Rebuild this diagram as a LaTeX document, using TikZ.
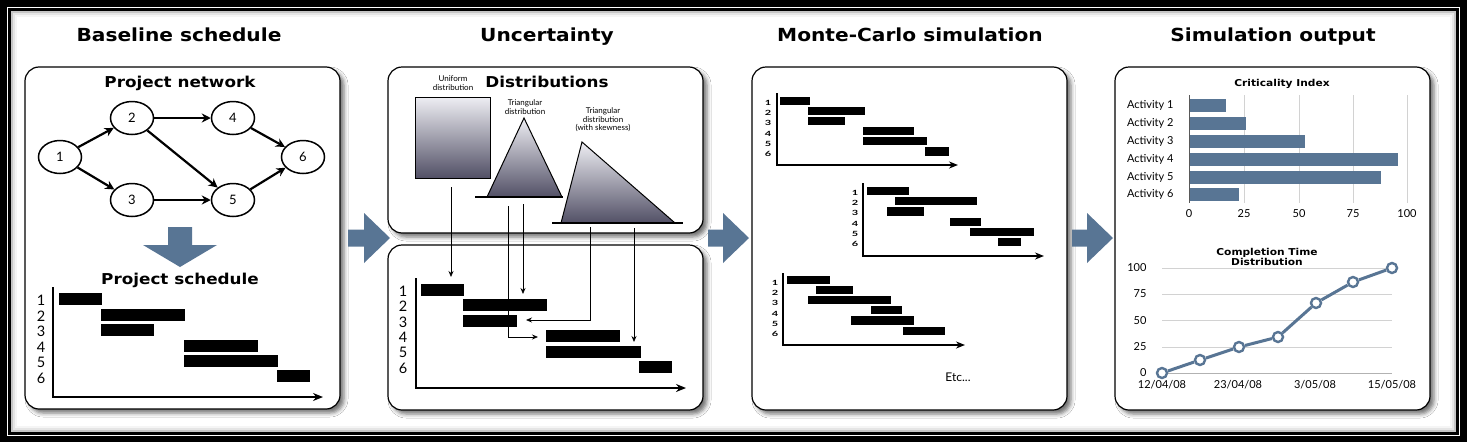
\documentclass[tikz,border=0pt]{standalone}
\usepackage{fontspec}
\setmainfont{Lato}
\newfontfamily\heavyfont{DejaVu Sans}[FakeStretch=1.12]
\usetikzlibrary{arrows.meta,shapes.geometric,shadows.blur}
\definecolor{steel}{RGB}{88,117,148}
\definecolor{distlight}{RGB}{238,238,243}
\definecolor{distdark}{RGB}{82,80,102}

\begin{document}
\begin{tikzpicture}[x=1pt, y=-1pt,
	title/.style={anchor=base, font=\heavyfont\fontsize{18}{20}\selectfont\bfseries},
	subtitle/.style={anchor=base, font=\heavyfont\fontsize{15}{17}\selectfont\bfseries},
	panel/.style={draw, line width=1.2pt, fill=white, rounded corners=14pt,
		blur shadow={shadow xshift=4pt, shadow yshift=-4pt, shadow blur radius=4pt, shadow opacity=55}},
	event/.style={ellipse, draw, line width=1.5pt, fill=white, minimum width=43pt, minimum height=33pt, inner sep=0pt, font=\fontsize{13}{13}\selectfont},
	link/.style={line width=2.2pt, -{Stealth[length=9pt, width=9pt]}},
	bar/.style={fill=black},
	axis/.style={line width=1.8pt, -{Stealth[length=10pt, width=8pt]}},
	smallaxis/.style={line width=1.5pt, -{Stealth[length=9pt, width=7pt]}},
	lead/.style={line width=0.8pt, -{Stealth[length=6pt, width=5pt]}},
	bigarrow/.style={fill=steel},
	dist/.style={draw, line width=1pt, top color=distlight, bottom color=distdark},
	row/.style={font=\fontsize{14.5}{14.5}\selectfont},
	tinyrow/.style={font=\fontsize{11}{11}\selectfont\bfseries, inner sep=0pt},
	note/.style={font=\fontsize{8}{8.5}\selectfont, align=center},
	chart/.style={font=\fontsize{11}{12}\selectfont},
	charttitle/.style={font=\heavyfont\fontsize{9.5}{10.5}\selectfont\bfseries, align=center},
	grid/.style={draw=gray!35, line width=1pt},
	cbar/.style={fill=steel},
	trend/.style={draw=steel, line width=3pt},
	dot/.style={circle, draw=steel, fill=white, line width=2.4pt, minimum size=10pt, inner sep=0pt}]
	\useasboundingbox (0,0) rectangle (1467,442);

	% frame
	\fill [black] (0,0) rectangle (1467,442);
	\fill [white] (7,7) rectangle (1460,436);
	\draw [black, line width=2.5pt] (9.5,9.5) rectangle (1457.5,433.5);
	\draw [gray!45, line width=1.5pt] (12,12) rectangle (1455,431);
	\draw [gray!20, line width=2pt] (14,14) rectangle (1453,429);
	\draw [gray!8, line width=2pt] (16,16) rectangle (1451,427);

	% titles
	\node [title] (t1) at (179,41) {Baseline schedule};
	\node [title] (t2) at (547,41) {Uncertainty};
	\node [title] (t3) at (910,41) {Monte-Carlo simulation};
	\node [title] (t4) at (1273,41) {Simulation output};

	% panels
	\path [panel] (25,67) rectangle (340,409);
	\path [panel] (388,67) rectangle (703,233);
	\path [panel] (388,245) rectangle (703,410);
	\path [panel] (752,67) rectangle (1067,410);
	\path [panel] (1115,67) rectangle (1430,410);

	% block arrows
	\fill [bigarrow] (348,229.5) -- (364,229.5) -- (364,213) -- (390,238) -- (364,263) -- (364,246.5) -- (348,246.5) -- cycle;
	\fill [bigarrow] (708,229.5) -- (723,229.5) -- (723,213) -- (749,238) -- (723,263) -- (723,246.5) -- (708,246.5) -- cycle;
	\fill [bigarrow] (1072,229.5) -- (1087,229.5) -- (1087,213) -- (1113,238) -- (1087,263) -- (1087,246.5) -- (1072,246.5) -- cycle;
	\fill [bigarrow] (168,227) -- (192,227) -- (192,245) -- (217,245) -- (180,267) -- (143,245) -- (168,245) -- cycle;

	% baseline schedule
	\node [subtitle] (net) at (180,87) {Project network};
	\node [event] (n1) at (60,157) {1};
	\node [event] (n2) at (132,118) {2};
	\node [event] (n3) at (132,200) {3};
	\node [event] (n4) at (233,118) {4};
	\node [event] (n5) at (233,200) {5};
	\node [event] (n6) at (303,157) {6};
	\draw [link] (n1) -- (n2);
	\draw [link] (n1) -- (n3);
	\draw [link] (n2) -- (n4);
	\draw [link] (n2) -- (n5);
	\draw [link] (n3) -- (n5);
	\draw [link] (n4) -- (n6);
	\draw [link] (n5) -- (n6);

	\node [subtitle] (sched) at (180,284) {Project schedule};
	\foreach \k/\y in {1/300,2/316,3/331,4/347,5/362,6/378}
		\node [row] (a\k) at (41,\y) {\k};
	\fill [bar] (59,293) rectangle (102,305);
	\fill [bar] (101,309) rectangle (185,321);
	\fill [bar] (101,324) rectangle (154,336);
	\fill [bar] (184,340) rectangle (258,352);
	\fill [bar] (184,355) rectangle (278,367);
	\fill [bar] (277,370) rectangle (310,382);
	\draw [axis] (53,287) -- (53,397) -- (323,397);

	% uncertainty
	\node [subtitle] (distr) at (547,87) {Distributions};
	\node [note] (unif) at (453,83) {Uniform\\distribution};
	\node [note] (tri) at (525,107) {Triangular\\distribution};
	\node [note] (skew) at (603,120) {Triangular\\distribution\\(with skewness)};
	\draw [dist] (415,97) rectangle (490,178);
	\draw [dist] (487,197) -- (524,118) -- (562,197) -- cycle;
	\draw [line width=1.2pt] (475,197) -- (563,197);
	\draw [dist] (561,223) -- (582,142) -- (675,223) -- cycle;
	\draw [line width=1.2pt] (552,223) -- (683,223);

	\foreach \k/\y in {1/291,2/306,3/322,4/337,5/352,6/368}
		\node [row] (b\k) at (403,\y) {\k};
	\fill [bar] (421,284) rectangle (464,296);
	\fill [bar] (463,299) rectangle (547,311);
	\fill [bar] (463,315) rectangle (517,327);
	\fill [bar] (546,330) rectangle (620,342);
	\fill [bar] (546,346) rectangle (641,358);
	\fill [bar] (639,361) rectangle (672,373);
	\draw [axis] (416,278) -- (416,388) -- (686,388);

	\coordinate (u0) at (451,187);
	\coordinate (u1) at (451,277);
	\coordinate (s0) at (523,204);
	\coordinate (s1) at (523,294);
	\coordinate (r0) at (508,206);
	\coordinate (r1) at (538,337);
	\coordinate (k0) at (590,227);
	\coordinate (k1) at (526,320);
	\coordinate (m0) at (634,228);
	\coordinate (m1) at (634,342);
	\draw [lead] (u0) -- (u1);
	\draw [lead] (s0) -- (s1);
	\draw [lead] (r0) |- (r1);
	\draw [lead] (k0) |- (k1);
	\draw [lead] (m0) -- (m1);

	% monte-carlo
	\foreach \k/\y in {1/103,2/113,3/123,4/134,5/144,6/154}
		\node [tinyrow] (ca\k) at (768,\y) {\scalebox{1}[0.65]{\k}};
	\fill [bar] (780,97) rectangle (810,105);
	\fill [bar] (808,107) rectangle (865,115);
	\fill [bar] (808,117) rectangle (845,125);
	\fill [bar] (863,127) rectangle (914,135);
	\fill [bar] (863,137) rectangle (927,145);
	\fill [bar] (925,147) rectangle (949,156);
	\draw [smallaxis] (777,93) -- (777,165) -- (958,165);

	\foreach \k/\y in {1/193,2/203,3/213,4/224,5/234,6/244}
		\node [tinyrow] (cb\k) at (855,\y) {\scalebox{1}[0.65]{\k}};
	\fill [bar] (867,187) rectangle (909,195);
	\fill [bar] (895,197) rectangle (977,205);
	\fill [bar] (887,207) rectangle (924,216);
	\fill [bar] (950,218) rectangle (981,226);
	\fill [bar] (970,228) rectangle (1034,236);
	\fill [bar] (998,238) rectangle (1021,246);
	\draw [smallaxis] (863,183) -- (863,256) -- (1044,256);

	\foreach \k/\y in {1/283,2/293,3/303,4/314,5/324,6/334}
		\node [tinyrow] (cc\k) at (775,\y) {\scalebox{1}[0.65]{\k}};
	\fill [bar] (787,276) rectangle (830,284);
	\fill [bar] (816,286) rectangle (853,294);
	\fill [bar] (808,296) rectangle (891,304);
	\fill [bar] (871,306) rectangle (902,314);
	\fill [bar] (851,316) rectangle (914,325);
	\fill [bar] (903,327) rectangle (945,335);
	\draw [smallaxis] (783,273) -- (783,345) -- (965,345);

	\node [font=\fontsize{12}{12}\selectfont] (etc) at (958,377) {Etc...};

	% simulation output
	\node [charttitle] (crit) at (1282,84) {Criticality Index};
	\foreach \x in {1244,1299,1353,1407}
		\draw [grid] (\x,95) -- (\x,203);
	\fill [cbar] (1189,98.5) rectangle (1226,111.5);
	\fill [cbar] (1189,116.5) rectangle (1246,129.5);
	\fill [cbar] (1189,134.5) rectangle (1305,147.5);
	\fill [cbar] (1189,152.5) rectangle (1398,165.5);
	\fill [cbar] (1189,170.5) rectangle (1381,183.5);
	\fill [cbar] (1189,187.5) rectangle (1239,200.5);
	\draw [gray!70!black, line width=1pt] (1189,95) -- (1189,203);
	\foreach \k/\y in {1/105,2/123,3/141,4/159,5/177,6/194}
		\node [chart, anchor=east] (act\k) at (1177,\y) {Activity \k};
	\foreach \v/\x in {0/1189,25/1244,50/1299,75/1353,100/1407}
		\node [chart] (ci\v) at (\x,214) {\v};

	\node [charttitle] (comp) at (1267,257) {Completion Time\\Distribution};
	\foreach \y in {268,294,320.5,347}
		\draw [grid] (1162,\y) -- (1392,\y);
	\draw [gray!60, line width=1pt] (1162,373) -- (1392,373);
	\foreach \v/\y in {100/268,75/294,50/320.5,25/347,0/373}
		\node [chart, anchor=east] (ct\v) at (1150,\y) {\v};
	\node [chart] (d1) at (1162,385) {12/04/08};
	\node [chart] (d2) at (1238,385) {23/04/08};
	\node [chart] (d3) at (1315,385) {3/05/08};
	\node [chart] (d4) at (1392,385) {15/05/08};
	\node [dot] (p1) at (1162,373) {};
	\node [dot] (p2) at (1200,360) {};
	\node [dot] (p3) at (1239,347) {};
	\node [dot] (p4) at (1278,337) {};
	\node [dot] (p5) at (1316,303) {};
	\node [dot] (p6) at (1353,282) {};
	\node [dot] (p7) at (1392,268) {};
	\draw [trend] (p1) -- (p2);
	\draw [trend] (p2) -- (p3);
	\draw [trend] (p3) -- (p4);
	\draw [trend] (p4) -- (p5);
	\draw [trend] (p5) -- (p6);
	\draw [trend] (p6) -- (p7);
\end{tikzpicture}
\end{document}
